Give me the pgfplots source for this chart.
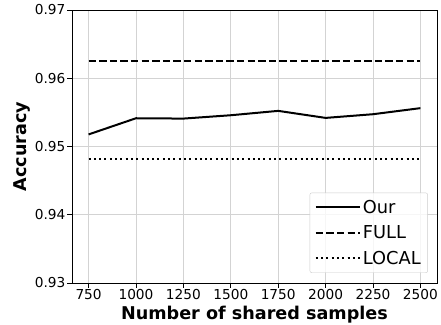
\documentclass[border=0pt]{standalone}
\usepackage{fontspec}
\setmainfont{DejaVu Sans}
\usepackage{pgfplots}
\pgfplotsset{compat=1.18}

\definecolor{gridgray}{HTML}{D3D3D3}
\definecolor{legedge}{HTML}{CCCCCC}

\pgfplotstableread{
x     our
750   0.95177
1000  0.95414
1250  0.95409
1500  0.95458
1750  0.95522
2000  0.95419
2250  0.95473
2500  0.95562
}\ourdata

\begin{document}
\begin{tikzpicture}
\useasboundingbox (-72bp,-42bp) rectangle (369bp,283bp);
\begin{axis}[
  at={(0,0)}, anchor=south west,
  scale only axis,
  width=365bp, height=273bp,
  xmin=662.5, xmax=2587.5,
  ymin=0.93, ymax=0.97,
  xtick={750,1000,...,2500},
  xticklabels={750,1000,1250,1500,1750,2000,2250,2500},
  ytick={0.93,0.94,...,0.97},
  yticklabels={0.93,0.94,0.95,0.96,0.97},
  tick label style={font=\fontsize{13.7bp}{15bp}\selectfont, text=black},
  xticklabel style={inner sep=2bp},
  yticklabel style={inner sep=2bp},
  tick align=outside,
  tick pos=left,
  major tick length=4.5bp,
  tick style={black, line width=0.8bp},
  grid=major,
  major grid style={gridgray, line width=0.8bp},
  axis line style={line width=0.8bp},
  xlabel={\bfseries Number of shared samples},
  ylabel={\bfseries Accuracy},
  label style={font=\fontsize{17.6bp}{20bp}\selectfont},
  xlabel style={yshift=-0.5bp},
  ylabel style={yshift=-1bp},
  legend style={
    at={(0.975,0.037)}, anchor=south east,
    font=\fontsize{17.8bp}{20bp}\selectfont,
    draw=legedge, rounded corners=2bp, fill=white, fill opacity=0.8, text opacity=1,
    row sep=7bp, inner xsep=5bp, inner ysep=5bp,
  },
  legend cell align=left,
  legend image code/.code={
    \path (0cm,0cm) -- (44bp,0cm);
    \draw[#1] (0cm,0cm) -- (36bp,0cm);
  },
]
\addplot[black, line width=2bp] table[x=x, y=our] {\ourdata};
\addlegendentry{Our}
\addplot[black, line width=2bp, dash pattern=on 7.4bp off 3.2bp] coordinates {(750,0.9626) (2500,0.9626)};
\addlegendentry{FULL}
\addplot[black, line width=2bp, dash pattern=on 2bp off 3.3bp] coordinates {(750,0.94813) (2500,0.94813)};
\addlegendentry{LOCAL}
\end{axis}
\end{tikzpicture}
\end{document}
